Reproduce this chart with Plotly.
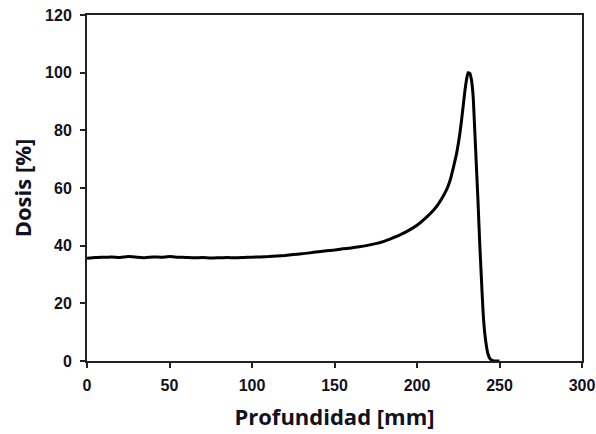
import plotly.graph_objects as go

depth = [0, 5, 10, 15, 20, 25, 30, 35, 40, 45, 50, 55, 60, 65, 70, 75, 80, 85, 90, 95,
         100, 105, 110, 115, 120, 125, 130, 135, 140, 145, 150, 155, 160, 165, 170, 175,
         180, 185, 190, 195, 200, 205, 210, 213, 216, 218, 220, 222, 224, 226, 227, 228,
         229, 230, 231, 232, 233, 234, 235, 236, 237, 238, 239, 240, 241, 242, 243, 244,
         245, 246, 248, 250]
dose = [35.6, 35.9, 36.0, 36.1, 35.9, 36.2, 36.0, 35.8, 36.1, 36.0, 36.2, 36.0, 35.9, 35.8,
        35.9, 35.7, 35.8, 35.9, 35.8, 35.9, 36.0, 36.1, 36.2, 36.4, 36.6, 36.9, 37.2, 37.5,
        37.9, 38.2, 38.5, 38.9, 39.2, 39.6, 40.1, 40.7, 41.5, 42.6, 43.8, 45.3, 47.1, 49.5,
        52.3, 54.5, 57.3, 59.5, 62.5, 67.0, 72.0, 79.0, 83.5, 88.5, 93.5, 97.5, 100.0, 99.8,
        97.5, 92.0, 80.0, 67.5, 55.0, 41.0, 29.0, 17.5, 10.0, 5.5, 2.5, 1.0, 0.4, 0.1, 0.0, 0.0]

x_ticks = [0, 50, 100, 150, 200, 250, 300]
y_ticks = [0, 20, 40, 60, 80, 100, 120]

fig = go.Figure(go.Scatter(x=depth, y=dose, mode="lines", line_shape="spline",
                           line=dict(color="black", width=3, smoothing=0.5), hoverinfo="skip"))

tick_font = dict(family="Liberation Sans, Arial", size=16, color="#111122", weight=700)
title_font = dict(family="Open Sans", size=22, color="#111122", weight=700)

axis_common = dict(showline=True, linecolor="#222222", linewidth=2, mirror=True,
                   ticks="outside", ticklen=5, tickwidth=1.5, tickcolor="#222222",
                   showgrid=False, zeroline=False, automargin=False, tickfont=tick_font)

fig.update_layout(
    width=596, height=434,
    margin=dict(l=87, r=14, t=15, b=73),
    paper_bgcolor="white", plot_bgcolor="white",
    showlegend=False,
    xaxis=dict(range=[0, 300], tickvals=x_ticks,
               ticktext=[str(v) for v in x_ticks],
               ticklabelstandoff=4,
               title=dict(text="Profundidad [mm]", standoff=16, font=title_font),
               **axis_common),
    yaxis=dict(range=[0, 120], tickvals=y_ticks,
               ticktext=[str(v) for v in y_ticks],
               ticklabelstandoff=5,
               title=dict(text="Dosis [%]", standoff=7, font=title_font),
               **axis_common),
)

fig.write_html("out.html")
